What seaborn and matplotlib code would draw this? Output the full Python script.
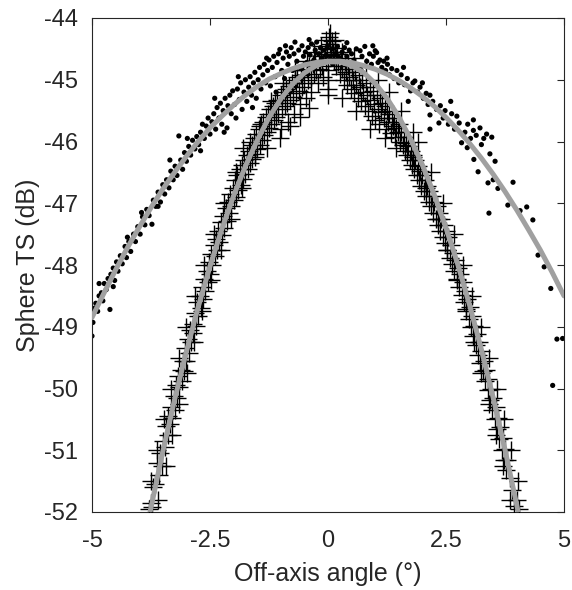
import matplotlib
matplotlib.use("Agg")
import matplotlib.pyplot as plt
import seaborn as sns
import pandas as pd

# ---------------- data ----------------
x_ticks = [-5, -2.5, 0, 2.5, 5]
x_tick_labels = ["-5", "-2.5", "0", "2.5", "5"]
y_ticks = [-52, -51, -50, -49, -48, -47, -46, -45, -44]
y_tick_labels = ["-52", "-51", "-50", "-49", "-48", "-47", "-46", "-45", "-44"]

# wide-beam measurements (dots)
wide_x = [
    -5.00, -4.98, -4.95, -4.92, -4.88, -4.85, -4.80, -4.77, -4.74, -4.70, -4.66, -4.62, -4.60, -4.55, -4.52,
    -4.48, -4.45, -4.40, -4.36, -4.30, -4.27, -4.22, -4.18, -4.12, -4.08, -4.03, -3.98, -3.93, -3.88, -3.84,
    -3.79, -3.73, -3.70, -3.65, -3.60, -3.55, -3.50, -3.46, -3.42, -3.37, -3.33, -3.28, -3.24, -3.20, -3.16,
    -3.12, -3.08, -3.04, -3.00, -2.95, -2.91, -2.87, -2.82, -2.78, -2.74, -2.70, -2.66, -2.62, -2.58, -2.54,
    -2.50, -2.46, -2.42, -2.38, -2.35, -2.31, -2.28, -2.25, -2.22, -2.18, -2.14, -2.12, -2.08, -2.05, -2.02,
    -1.98, -1.95, -1.92, -1.88, -1.85, -1.82, -1.78, -1.75, -1.72, -1.68, -1.65, -1.62, -1.58, -1.55, -1.52,
    -1.48, -1.45, -1.42, -1.38, -1.35, -1.32, -1.28, -1.25, -1.22, -1.18, -1.15, -1.12, -1.08, -1.05, -1.02,
    -0.98, -0.95, -0.92, -0.88, -0.85, -0.82, -0.78, -0.75, -0.72, -0.70, -0.66, -0.62, -0.58, -0.55, -0.52,
    -0.48, -0.45, -0.42, -0.38, -0.35, -0.30, -0.27, -0.24, -0.20, -0.16, -0.12, -0.08, -0.04, 0.00, 0.05,
    0.10, 0.15, 0.20, 0.25, 0.30, 0.35, 0.40, 0.45, 0.50, 0.55, 0.60, 0.68, 0.72, 0.78, 0.82,
    0.88, 0.92, 0.96, 1.00, 1.03, 1.06, 1.10, 1.14, 1.18, 1.22, 1.26, 1.30, 1.35, 1.40, 1.46,
    1.50, 1.55, 1.62, 1.68, 1.75, 1.80, 1.84, 1.90, 1.95, 2.02, 2.08, 2.12, 2.16, 2.16, 2.16,
    2.22, 2.30, 2.38, 2.44, 2.48, 2.55, 2.62, 2.68, 2.73, 2.78, 2.83, 2.90, 2.96, 3.02, 3.08,
    3.08, 3.09, 3.14, 3.18, 3.22, 3.30, 3.36, 3.39, 3.43, 3.47, 3.50, 3.54, 3.60, 3.41, 3.81,
    3.92, 4.07, 4.21, 4.34, 4.45, 4.58, 4.72, 4.76, 4.85, 4.97,
    -4.85, -4.55, -4.25, -3.95, -3.60, -3.35, -2.98, -2.70, -2.40, -2.20, -1.90, -1.60, -1.30, -1.10, -0.90,
    -0.60, -0.40, 0.10, 0.40, 0.70, 0.95, 1.25, 1.60, 1.70, 2.00, 2.35, 2.60, 2.95, 3.25,
]
wide_y = [
    -49.15, -48.93, -48.70, -48.62, -48.75, -48.50, -48.45, -48.58, -48.30, -48.40, -48.22, -48.72, -48.15, -48.05, -48.25,
    -47.95, -48.10, -47.85, -47.98, -47.70, -47.88, -47.62, -47.78, -47.50, -47.62, -47.38, -47.50, -47.22, -47.35, -47.10,
    -47.20, -47.34, -46.95, -47.05, -46.82, -46.98, -46.70, -46.85, -46.62, -46.75, -46.48, -46.62, -46.40, -46.55, -45.91,
    -46.30, -46.45, -46.18, -46.32, -46.08, -46.22, -45.98, -46.12, -45.92, -46.05, -45.85, -45.72, -45.95, -45.75, -45.62,
    -45.88, -45.68, -45.55, -45.80, -45.45, -45.62, -45.38, -45.72, -45.50, -45.30, -45.78, -45.42, -45.25, -45.55, -45.18,
    -45.40, -45.62, -45.15, -45.32, -45.05, -45.48, -45.20, -45.00, -45.35, -45.12, -44.95, -45.25, -45.05, -44.88, -45.30,
    -45.00, -44.80, -45.15, -44.92, -44.75, -45.05, -44.85, -44.68, -45.10, -44.80, -44.62, -44.95, -44.72, -44.58, -44.51,
    -44.85, -44.65, -44.98, -44.55, -44.75, -44.62, -44.48, -44.85, -44.58, -44.39, -44.70, -44.52, -44.80, -44.45, -44.62,
    -44.55, -44.72, -44.48, -44.60, -44.42, -44.68, -44.52, -44.39, -44.58, -44.48, -44.65, -44.52, -44.60, -44.45, -44.62,
    -44.50, -44.58, -44.46, -44.65, -44.55, -44.48, -44.62, -44.52, -44.58, -44.68, -44.50, -44.53, -44.62, -44.46, -44.70,
    -44.58, -44.75, -44.62, -44.53, -44.56, -44.72, -44.68, -44.80, -44.70, -44.85, -44.75, -44.92, -44.82, -44.98, -44.85,
    -45.05, -44.92, -45.08, -44.98, -45.18, -45.05, -45.02, -45.20, -45.12, -45.30, -45.22, -45.40, -45.25, -45.57, -45.80,
    -45.35, -45.48, -45.42, -45.62, -45.50, -45.72, -45.55, -45.80, -45.59, -45.70, -46.02, -45.85, -45.72, -45.95, -45.65,
    -45.82, -46.29, -45.90, -46.49, -45.78, -45.95, -45.88, -46.67, -46.20, -45.93, -46.62, -46.32, -46.76, -47.16, -47.03,
    -46.66, -47.12, -47.06, -47.27, -47.84, -48.03, -48.38, -49.95, -49.20, -49.19,
    -48.30, -48.35, -47.55, -47.15, -47.05, -46.30, -45.95, -46.15, -45.30, -45.85, -44.95, -45.45, -44.65, -45.20, -44.45,
    -44.95, -44.35, -44.75, -44.40, -44.85, -44.45, -44.65, -44.80, -45.35, -45.05, -45.70, -45.35, -46.10, -46.05,
]

# narrow-beam measurements (plus markers)
narrow_x = [
    -3.80, -3.76, -3.72, -3.70, -3.66, -3.62, -3.58, -3.55, -3.52, -3.50, -3.46, -3.44, -3.40, -3.38, -3.35,
    -3.32, -3.30, -3.27, -3.25, -3.22, -3.20, -3.17, -3.15, -3.12, -3.10, -3.07, -3.05, -3.02, -3.00, -2.97,
    -2.95, -2.92, -2.90, -2.87, -2.85, -2.82, -2.80, -2.77, -2.75, -2.72, -2.70, -2.67, -2.65, -2.62, -2.60,
    -2.57, -2.55, -2.52, -2.50, -2.47, -2.45, -2.42, -2.40, -2.37, -2.35, -2.32, -2.30, -2.27, -2.25, -2.22,
    -2.20, -2.17, -2.15, -2.12, -2.10, -2.07, -2.05, -2.02, -2.00, -1.97, -1.95, -1.92, -1.90, -1.87, -1.85,
    -1.82, -1.80, -1.77, -1.75, -1.72, -1.70, -1.67, -1.65, -1.62, -1.60, -1.57, -1.55, -1.52, -1.50, -1.47,
    -1.45, -1.42, -1.40, -1.37, -1.35, -1.32, -1.30, -1.27, -1.25, -1.22, -1.20, -1.17, -1.15, -1.12, -1.10,
    -1.07, -1.05, -1.02, -1.00, -0.97, -0.95, -0.92, -0.90, -0.87, -0.85, -0.82, -0.80, -0.77, -0.75, -0.72,
    -0.70, -0.67, -0.65, -0.62, -0.60, -0.57, -0.55, -0.52, -0.50, -0.47, -0.45, -0.42, -0.40, -0.37, -0.35,
    -0.32, -0.30, -0.27, -0.25, -0.22, -0.20, -0.17, -0.15, -0.12, -0.10, -0.07, -0.05, -0.02, 0.00, 0.00,
    0.00, 0.00, 0.02, 0.04, 0.06, 0.08, 0.10, 0.12, 0.14, 0.16, 0.18, 0.20, 0.22, 0.25, 0.28,
    0.30, 0.33, 0.35, 0.38, 0.40, 0.43, 0.45, 0.48, 0.50, 0.53, 0.55, 0.58, 0.60, 0.63, 0.65,
    0.68, 0.70, 0.73, 0.75, 0.78, 0.80, 0.83, 0.85, 0.88, 0.90, 0.93, 0.95, 0.98, 1.00, 1.03,
    1.05, 1.08, 1.10, 1.13, 1.15, 1.18, 1.20, 1.23, 1.25, 1.28, 1.30, 1.33, 1.35, 1.38, 1.40,
    1.43, 1.45, 1.48, 1.50, 1.53, 1.55, 1.58, 1.60, 1.63, 1.65, 1.68, 1.70, 1.73, 1.75, 1.78,
    1.80, 1.83, 1.85, 1.88, 1.90, 1.93, 1.95, 1.98, 2.00, 2.03, 2.05, 2.08, 2.10, 2.13, 2.15,
    2.18, 2.20, 2.23, 2.25, 2.28, 2.30, 2.33, 2.35, 2.38, 2.40, 2.43, 2.45, 2.48, 2.50, 2.53,
    2.55, 2.58, 2.60, 2.63, 2.65, 2.68, 2.70, 2.73, 2.75, 2.78, 2.80, 2.83, 2.85, 2.88, 2.90,
    2.93, 2.95, 2.98, 3.00, 3.03, 3.05, 3.08, 3.10, 3.13, 3.15, 3.18, 3.20, 3.23, 3.25, 3.28,
    3.30, 3.33, 3.35, 3.38, 3.40, 3.43, 3.45, 3.48, 3.50, 3.53, 3.55, 3.58, 3.60, 3.63, 3.65,
    3.68, 3.70, 3.73, 3.75, 3.78, 3.80, 3.85, 3.90, 3.95, 4.00, 4.05,
    -3.60, -3.76, -3.44, -3.62, -3.30, -3.48, -3.15, -3.33, -2.99, -3.16, -2.83, -3.00, -2.66, -2.82, -2.47,
    -2.63, -2.27, -2.42, -2.05, -2.20, -1.82, -1.95, -1.55, -1.66,
    3.86, 4.02, 3.70, 3.88, 3.56, 3.73, 3.41, 3.58, 3.25, 3.42, 3.09, 3.25, 2.92, 3.06, 2.73,
    2.87, 2.53, 2.66, 2.32, 2.44, 2.08, 2.18, 1.81, 1.90,
    -1.80, -1.45, -1.20, -0.95, -0.70, -0.45, -0.30, -0.15, 0.05, -0.05, 0.15, 0.30, 0.55, 0.80, 1.05,
    1.30, 1.55, 1.80, -1.30, -1.00, -0.80, -0.60, -0.40, 0.30, 0.60, 0.90, 1.20, 1.45,
]
narrow_y = [
    -51.95, -51.85, -51.92, -51.60, -51.55, -51.20, -51.40, -51.05, -51.25, -50.85, -50.95, -50.60, -50.75, -50.45, -50.58,
    -50.30, -50.48, -50.12, -50.35, -49.95, -50.15, -49.80, -49.98, -49.70, -49.88, -49.55, -49.72, -49.35, -49.55, -49.20,
    -49.42, -49.05, -49.25, -48.95, -49.10, -48.78, -48.98, -48.60, -48.82, -48.50, -48.70, -48.35, -48.55, -48.22, -48.42,
    -48.10, -48.28, -47.95, -48.15, -47.82, -48.00, -47.68, -47.85, -47.58, -47.75, -47.45, -47.62, -47.30, -47.52, -47.20,
    -47.40, -47.08, -47.28, -46.98, -47.15, -46.85, -47.05, -46.75, -46.95, -46.62, -46.90, -46.55, -46.78, -46.45, -46.70,
    -46.38, -46.60, -46.30, -46.52, -46.22, -46.45, -46.15, -46.35, -46.05, -46.28, -45.95, -46.20, -45.88, -46.12, -45.80,
    -46.05, -45.72, -45.98, -45.68, -45.90, -45.60, -45.85, -45.55, -45.78, -45.48, -45.72, -45.42, -45.65, -45.38, -45.60,
    -45.32, -45.55, -45.94, -45.25, -45.48, -45.20, -45.42, -45.15, -45.38, -45.68, -45.10, -45.32, -45.05, -45.28, -45.55,
    -45.00, -45.22, -44.95, -45.18, -45.40, -44.92, -45.12, -44.85, -45.05, -45.30, -44.82, -45.00, -44.78, -44.95, -45.20,
    -44.75, -44.90, -44.70, -44.85, -45.05, -44.68, -44.82, -44.62, -44.78, -44.95, -44.58, -44.72, -44.50, -44.85, -45.00,
    -45.15, -45.25, -44.30, -44.42, -44.60, -44.38, -44.55, -44.70, -44.48, -44.65, -44.78, -44.58, -44.72, -44.90, -44.68,
    -44.82, -45.00, -44.72, -44.88, -45.08, -44.78, -44.95, -45.15, -44.82, -45.00, -45.22, -44.88, -45.08, -45.30, -44.92,
    -45.12, -45.35, -45.00, -45.20, -45.42, -45.05, -45.25, -45.50, -45.12, -45.32, -45.58, -45.18, -45.40, -45.65, -45.25,
    -45.48, -45.72, -45.30, -45.52, -45.38, -45.62, -45.42, -45.80, -45.50, -45.68, -45.55, -45.86, -45.62, -45.75, -45.68,
    -45.92, -45.78, -45.85, -45.72, -46.00, -45.85, -46.05, -45.92, -46.15, -46.02, -46.22, -46.08, -46.30, -46.15, -46.38,
    -46.22, -46.45, -46.30, -46.55, -46.40, -46.62, -46.48, -46.72, -46.55, -46.80, -46.62, -46.88, -46.72, -46.98, -46.80,
    -47.05, -46.88, -47.15, -46.98, -47.25, -47.05, -47.35, -47.15, -47.45, -47.25, -47.55, -47.35, -47.65, -47.45, -47.75,
    -47.55, -47.88, -47.68, -47.98, -47.80, -48.10, -47.92, -48.22, -48.05, -48.35, -48.15, -48.48, -48.28, -48.60, -48.42,
    -48.72, -48.55, -48.88, -48.68, -49.00, -48.82, -49.15, -48.98, -49.30, -49.12, -49.45, -49.25, -49.58, -49.40, -49.72,
    -49.55, -49.88, -49.70, -50.02, -49.85, -50.18, -50.00, -50.35, -50.15, -50.50, -50.30, -50.65, -50.48, -50.82, -50.62,
    -51.00, -50.80, -51.15, -50.98, -51.32, -51.15, -51.45, -51.65, -51.90, -51.80, -51.95,
    -51.80, -51.50, -51.25, -51.00, -50.75, -50.50, -50.25, -50.00, -49.75, -49.50, -49.25, -49.00, -48.75, -48.50, -48.25,
    -48.00, -47.75, -47.50, -47.25, -47.00, -46.75, -46.50, -46.25, -46.00,
    -51.80, -51.50, -51.25, -51.00, -50.75, -50.50, -50.25, -50.00, -49.75, -49.50, -49.25, -49.00, -48.75, -48.50, -48.25,
    -48.00, -47.75, -47.50, -47.25, -47.00, -46.75, -46.50, -46.25, -46.00,
    -46.10, -45.75, -45.35, -45.05, -44.85, -44.70, -44.55, -44.45, -44.25, -44.35, -44.35, -44.55, -44.65, -44.80, -45.00,
    -45.20, -45.50, -45.85, -46.10, -45.80, -45.75, -45.60, -45.45, -45.30, -45.50, -45.80, -45.95, -46.10,
]

# fitted beam-pattern curves (grey lines), read at regular angles
wide_fit_x = [-5.00, -4.75, -4.50, -4.25, -4.00, -3.75, -3.50, -3.25, -3.00, -2.75, -2.50, -2.25, -2.00, -1.75,
              -1.50, -1.25, -1.00, -0.75, -0.50, -0.25, 0.00, 0.25, 0.50, 0.75, 1.00, 1.25, 1.50, 1.75,
              2.00, 2.25, 2.50, 2.75, 3.00, 3.25, 3.50, 3.75, 4.00, 4.25, 4.50, 4.75, 5.00]
wide_fit_y = [-48.85, -48.46, -48.08, -47.72, -47.39, -47.07, -46.77, -46.50, -46.24, -46.00, -45.78, -45.59,
              -45.41, -45.25, -45.11, -44.99, -44.90, -44.82, -44.76, -44.72, -44.70, -44.70, -44.72, -44.77,
              -44.83, -44.91, -45.01, -45.13, -45.27, -45.43, -45.61, -45.81, -46.03, -46.27, -46.53, -46.81,
              -47.11, -47.43, -47.76, -48.12, -48.50]
narrow_fit_x = [-3.77, -3.50, -3.25, -3.00, -2.75, -2.50, -2.25, -2.00, -1.75, -1.50, -1.25, -1.00, -0.75,
                -0.50, -0.25, 0.00, 0.25, 0.50, 0.75, 1.00, 1.25, 1.50, 1.75, 2.00, 2.25, 2.50, 2.75,
                3.00, 3.25, 3.50, 3.75, 4.00, 4.03]
narrow_fit_y = [-52.00, -51.02, -50.18, -49.40, -48.68, -48.02, -47.42, -46.88, -46.40, -45.98, -45.61, -45.31,
                -45.07, -44.89, -44.77, -44.71, -44.71, -44.77, -44.88, -45.06, -45.30, -45.60, -45.96, -46.38,
                -46.86, -47.40, -47.99, -48.65, -49.37, -50.15, -50.99, -51.89, -52.00]

# ---------------- plotting ----------------
sns.set_theme(style="white")
plt.rcParams["font.family"] = ["Liberation Sans", "DejaVu Sans"]
plt.rcParams["axes.unicode_minus"] = False

axis_col = "#262626"
fig = plt.figure(figsize=(5.72, 5.9), dpi=100)
ax = fig.add_axes([92 / 572, 1 - 512 / 590, 472 / 572, 494 / 590])

wide_df = pd.DataFrame({"x": wide_x, "y": wide_y})
narrow_df = pd.DataFrame({"x": narrow_x, "y": narrow_y})
wfit = pd.DataFrame({"x": wide_fit_x, "y": wide_fit_y})
nfit = pd.DataFrame({"x": narrow_fit_x, "y": narrow_fit_y})

sns.scatterplot(data=wide_df, x="x", y="y", ax=ax, marker="o", s=14, color="black",
                edgecolor="none", linewidth=0, zorder=2, legend=False)
sns.scatterplot(data=narrow_df, x="x", y="y", ax=ax, marker="+", s=150, color="black",
                linewidth=1.0, zorder=3, legend=False)
sns.lineplot(data=wfit, x="x", y="y", ax=ax, sort=False, color="#a0a0a0", linewidth=3.6,
             zorder=4, legend=False, estimator=None)
sns.lineplot(data=nfit, x="x", y="y", ax=ax, sort=False, color="#a0a0a0", linewidth=3.6,
             zorder=5, legend=False, estimator=None)

ax.set_xlim(-5, 5)
ax.set_ylim(-52, -44)
ax.set_xticks(x_ticks)
ax.set_xticklabels(x_tick_labels)
ax.set_yticks(y_ticks)
ax.set_yticklabels(y_tick_labels)
ax.tick_params(axis="both", which="both", direction="in", length=5, width=0.8,
               top=True, right=True, labelsize=17, colors=axis_col)
ax.tick_params(axis="x", pad=13)
ax.tick_params(axis="y", pad=10)
for sp in ax.spines.values():
    sp.set_visible(True)
    sp.set_color(axis_col)
    sp.set_linewidth(0.8)

ax.set_xlabel("Off-axis angle (°)", fontsize=18, color=axis_col, labelpad=7)
ax.set_ylabel("Sphere TS (dB)", fontsize=18, color=axis_col, labelpad=3)

fig.savefig("out.png", dpi=100)
